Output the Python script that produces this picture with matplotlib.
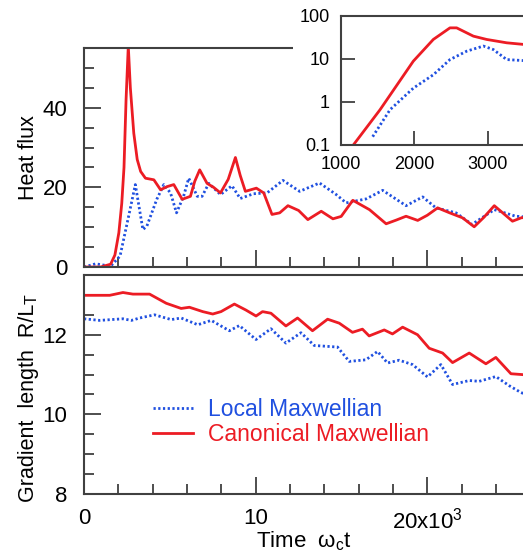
import matplotlib
matplotlib.use("Agg")
import matplotlib.pyplot as plt
from matplotlib.ticker import MultipleLocator, FixedLocator, FixedFormatter, NullLocator
from matplotlib.patches import Rectangle

plt.rcParams['font.family'] = ['Liberation Sans', 'DejaVu Sans']
plt.rcParams['mathtext.fontset'] = 'custom'
plt.rcParams['mathtext.rm'] = 'Liberation Sans'

RED = '#ec1c24'
BLUE = '#2050e0'
AXC = '#404040'

# ---- heat flux (time in 10^3 units) ----
t_flux_local = [0, 0.68, 1.55, 2.1, 2.6, 2.99, 3.43, 3.66, 4.24, 4.65, 5.04, 5.39, 5.8, 6.1,
                6.6, 6.88, 7.27, 7.95, 8.62, 9.1, 9.88, 10.66, 11.59, 12.56, 13.72, 14.69,
                15.27, 16.43, 17.4, 18.76, 19.73, 20.5, 21.67, 22.6, 23.9, 25.15, 26.0]
flux_local = [0, 0.8, 0.2, 2.75, 12.75, 20.7, 9.4, 10.25, 17, 20.7, 18.6, 13.6, 17.75, 22.3,
              17.75, 17.75, 21, 18.2, 20.4, 17.2, 18.4, 18.6, 21.75, 19, 21.1, 18.2,
              16.1, 17.1, 19.25, 15.4, 17.6, 14.85, 13.6, 10.7, 14.4, 12.75, 12.5]

t_flux_canon = [0, 0.97, 1.55, 1.8, 2.03, 2.2, 2.33, 2.45, 2.58, 2.7, 2.9, 3.1, 3.3, 3.58,
                4.07, 4.46, 4.85, 5.23, 5.72, 6.2, 6.45, 6.74, 7.17, 7.55, 7.95, 8.4, 8.82,
                9.1, 9.4, 10.04, 10.47, 10.95, 11.4, 11.88, 12.5, 13.04, 13.82, 14.5,
                14.98, 15.66, 16.63, 17.6, 18.2, 18.76, 19.44, 20.0, 20.6, 21.3, 22.05, 22.73,
                23.3, 23.9, 24.96, 25.5, 26.0]
flux_canon = [0, 0, 0.7, 3.0, 8.6, 16, 25, 42, 55.5, 45, 33.6, 27, 24, 22.3,
              21.9, 19.4, 20.2, 20.7, 17, 17.75, 21.5, 24.4, 21, 20, 18.6, 22, 27.5,
              23, 19, 19.8, 18.6, 13.2, 13.6, 15.4, 14.2, 11.9, 14, 12.1,
              12.7, 16.75, 14.4, 10.85, 11.8, 12.75, 11.7, 13.0, 14.85, 13.6, 12.35, 10.1,
              12.5, 15.4, 11.5, 12.4, 12.2]

# ---- gradient length R/L_T ----
t_grad_local = [0, 0.91, 2.27, 2.76, 3.24, 4.11, 5.08, 5.66, 6.63, 7.41, 8.47, 9.05, 10.02,
                10.89, 11.76, 12.64, 13.41, 14.77, 15.45, 16.42, 17.1, 17.68, 18.36, 19.14,
                20.01, 20.79, 21.47, 22.44, 23.02, 23.99, 24.77, 25.45, 26.0]
grad_local = [12.4, 12.36, 12.4, 12.36, 12.42, 12.5, 12.38, 12.42, 12.25, 12.36, 12.1, 12.23, 11.88,
              12.15, 11.79, 12.05, 11.73, 11.69, 11.33, 11.37, 11.58, 11.29, 11.36, 11.25,
              10.94, 11.25, 10.75, 10.85, 10.83, 10.95, 10.72, 10.55, 10.45]

t_grad_canon = [0, 1.5, 2.27, 2.85, 3.82, 4.79, 5.66, 6.14, 6.92, 7.5, 7.98, 8.76, 9.43, 10.02,
                10.4, 10.89, 11.76, 12.44, 13.31, 14.19, 14.87, 15.64, 16.22, 16.61, 17.49,
                17.97, 18.56, 19.43, 20.11, 20.89, 21.47, 22.44, 23.41, 23.99, 24.87, 25.5, 26.0]
grad_canon = [12.99, 12.99, 13.06, 13.02, 13.02, 12.79, 12.66, 12.69, 12.58, 12.52, 12.58, 12.77,
              12.62, 12.47, 12.58, 12.54, 12.22, 12.42, 12.1, 12.39, 12.29, 12.06, 12.14, 11.97,
              12.12, 12.02, 12.19, 12.0, 11.66, 11.54, 11.3, 11.54, 11.27, 11.43, 11.02, 11.0, 10.98]

# ---- inset: early heat flux, log scale ----
t_in_local = [1432, 1668, 1986, 2259, 2486, 2714, 2941, 3077, 3259, 3482, 3700]
in_local = [0.156, 0.66, 2.1, 4.3, 9.7, 15.2, 20, 16.6, 9.7, 9.2, 9.5]
t_in_canon = [1168, 1532, 1986, 2259, 2486, 2577, 2805, 2986, 3259, 3482, 3700]
in_canon = [0.1, 0.66, 8.9, 28.5, 53, 53, 34, 28.5, 23.8, 21.9, 21.5]

fig = plt.figure(figsize=(5.23, 5.52), dpi=100)
W, H = 523.0, 552.0

x0 = 84 / W
xw = 515 / W
ax1 = fig.add_axes([x0, 285 / H, xw, 219 / H])
ax2 = fig.add_axes([x0, 58 / H, xw, 219 / H])

lw = 2.0
dots = (0, (0.8, 0.9))
ax1.plot(t_flux_local, flux_local, color=BLUE, lw=lw, ls=dots)
ax1.plot(t_flux_canon, flux_canon, color=RED, lw=lw)
ax2.plot(t_grad_local, grad_local, color=BLUE, lw=lw, ls=dots, label='Local Maxwellian')
ax2.plot(t_grad_canon, grad_canon, color=RED, lw=lw, label='Canonical Maxwellian')

for ax in (ax1, ax2):
    ax.set_xlim(0, 30)
    ax.spines['right'].set_visible(False)
    for s in ('top', 'bottom', 'left'):
        ax.spines[s].set_color(AXC)
        ax.spines[s].set_linewidth(1.5)
    ax.xaxis.set_major_locator(MultipleLocator(10))
    ax.xaxis.set_minor_locator(MultipleLocator(2))
    ax.tick_params(which='major', direction='in', length=12, width=1.3, color=AXC,
                   pad=12, labelsize=16, top=False, right=False)
    ax.tick_params(which='minor', direction='in', length=7, width=1.3, color=AXC,
                   top=False, right=False)
    ax.tick_params(axis='x', pad=10)

ax1.set_ylim(0, 55)
ax1.yaxis.set_major_locator(MultipleLocator(20))
ax1.yaxis.set_minor_locator(MultipleLocator(5))
ax1.tick_params(axis='x', labelbottom=False)
ax1.set_ylabel('Heat flux', fontsize=15.5)
ax1.yaxis.set_label_coords(-0.088, 0.5)

ax2.set_ylim(8, 13.5)
ax2.yaxis.set_major_locator(MultipleLocator(2))
ax2.yaxis.set_minor_locator(MultipleLocator(0.5))
ax2.xaxis.set_major_locator(FixedLocator([0, 10, 20]))
ax2.xaxis.set_major_formatter(FixedFormatter(['0', '10', r'20x10$^\mathregular{3}$']))
ylab = ax2.set_ylabel('Gradient  length  R/L', fontsize=15.5)
ax2.yaxis.set_label_coords(-0.088, 0.415)
ax2.annotate('T', xy=(1, 1), xycoords=ylab, xytext=(0.5, 0), textcoords='offset points',
             rotation=90, ha='right', va='bottom', fontsize=11.5)
ax2.set_xlabel(r'Time  ω$_\mathregular{c}$t', fontsize=16)
ax2.xaxis.set_label_coords(0.427, -0.16)

ax2.legend(loc='upper left', bbox_to_anchor=(0.134, 0.44), frameon=False, fontsize=16.5,
           handlelength=1.75, handletextpad=0.65, labelspacing=0.12, borderaxespad=0,
           borderpad=0, labelcolor='linecolor')

# white backing for the inset and its labels
fig.patches.append(Rectangle((293 / W, 1 - 172 / H), 1, 172 / H, transform=fig.transFigure,
                             facecolor='white', edgecolor='none', zorder=1))

ax3 = fig.add_axes([341 / W, 1 - 145 / H, 220 / W, 129 / H], zorder=2)
ax3.plot(t_in_local, in_local, color=BLUE, lw=lw, ls=dots)
ax3.plot(t_in_canon, in_canon, color=RED, lw=lw)
ax3.set_yscale('log')
ax3.set_ylim(0.1, 100)
ax3.set_xlim(1000, 4000)
ax3.yaxis.set_major_locator(FixedLocator([0.1, 1, 10, 100]))
ax3.yaxis.set_major_formatter(FixedFormatter(['0.1', '1', '10', '100']))
ax3.yaxis.set_minor_locator(NullLocator())
ax3.xaxis.set_major_locator(FixedLocator([1000, 2000, 3000]))
ax3.xaxis.set_major_formatter(FixedFormatter(['1000', '2000', '3000']))
ax3.spines['right'].set_visible(False)
for s in ('top', 'bottom', 'left'):
    ax3.spines[s].set_color(AXC)
    ax3.spines[s].set_linewidth(1.5)
ax3.tick_params(which='major', direction='in', length=10, width=1.3, color=AXC,
                pad=8, labelsize=13)

fig.savefig('out.png', dpi=100)
